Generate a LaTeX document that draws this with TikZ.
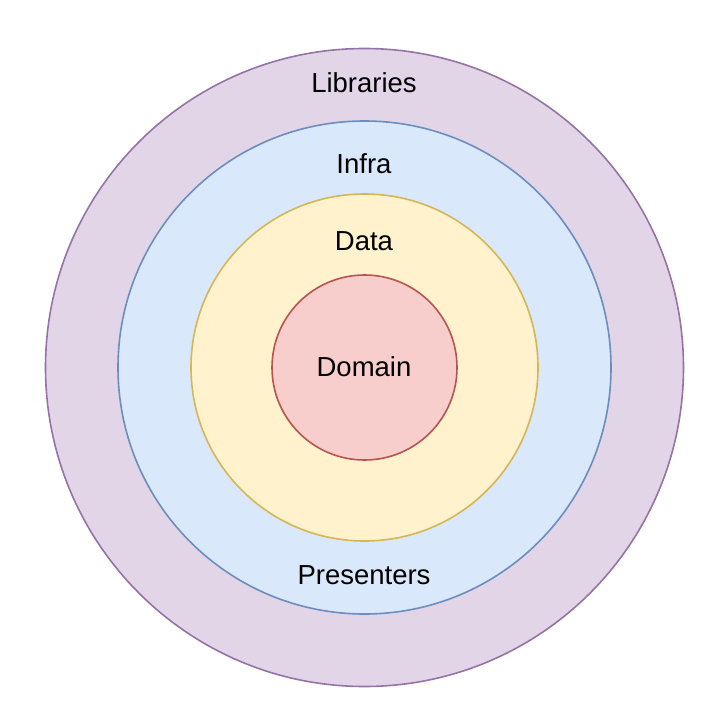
\documentclass[tikz,border=0pt]{standalone}
\usepackage{fontspec}
\setmainfont{Liberation Sans}
\begin{document}
\begin{tikzpicture}[x=1pt,y=-1pt,
  ring/.style={circle,inner sep=0pt,line width=1.6pt},
  lbl/.style={anchor=base,inner sep=0pt,font=\fontsize{27.5}{30}\selectfont}]
\useasboundingbox (0,0) rectangle (718,726);
\definecolor{pfill}{HTML}{E1D5E7}\definecolor{pline}{HTML}{9673A6}
\definecolor{bfill}{HTML}{DAE8FC}\definecolor{bline}{HTML}{6C8EBF}
\definecolor{yfill}{HTML}{FFF2CC}\definecolor{yline}{HTML}{D6B656}
\definecolor{rfill}{HTML}{F8CECC}\definecolor{rline}{HTML}{B85450}
\coordinate (c) at (364.5,367.5);
\node[ring,draw=pline,fill=pfill,minimum size=638pt] (libc) at (c) {};
\node[ring,draw=bline,fill=bfill,minimum size=493pt] (infc) at (c) {};
\node[ring,draw=yline,fill=yfill,minimum size=347pt] (datc) at (c) {};
\node[ring,draw=rline,fill=rfill,minimum size=185pt] (domc) at (c) {};
\node[lbl] (lib) at (364,92) {Libraries};
\node[lbl] (inf) at (364,173) {Infra};
\node[lbl] (dat) at (364,250) {Data};
\node[lbl] (dom) at (364,376) {Domain};
\node[lbl] (pre) at (364,584) {Presenters};
\end{tikzpicture}
\end{document}
